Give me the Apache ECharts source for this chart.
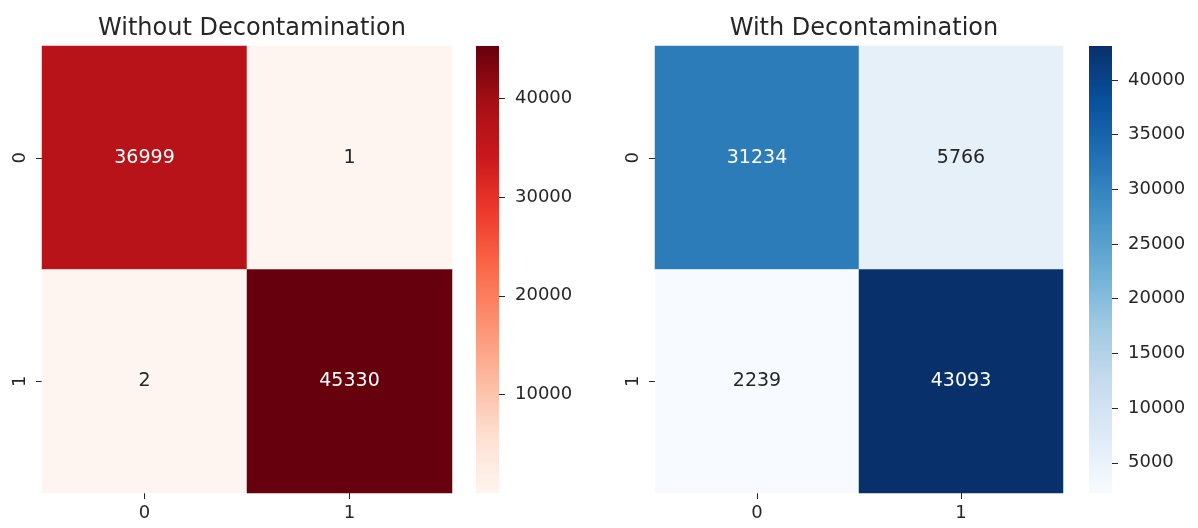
<!DOCTYPE html>
<html>
<head>
<meta charset="UTF-8">
<script src="https://cdn.jsdelivr.net/npm/echarts@6/dist/echarts.min.js"></script>
<style>
  html, body { margin: 0; padding: 0; background: #fff; }
  #chart { width: 1198px; height: 528px; }
</style>
</head>
<body>
<div id="chart"></div>
<script>
  // confusion matrix labels and values (rows = actual, cols = predicted)
  var categories = ['0', '1'];
  var withoutDecon = [[36999, 1], [2, 45330]];
  var withDecon = [[31234, 5766], [2239, 43093]];
  var redTicks = [10000, 20000, 30000, 40000];
  var blueTicks = [5000, 10000, 15000, 20000, 25000, 30000, 35000, 40000];

  var redsMap = ['#fff5f0', '#fee0d2', '#fcbba1', '#fc9272', '#fb6a4a', '#ef3b2c', '#cb181d', '#a50f15', '#67000d'];
  var bluesMap = ['#f7fbff', '#deebf7', '#c6dbef', '#9ecae1', '#6baed6', '#4292c6', '#2171b5', '#08519c', '#08306b'];
  var font = 'DejaVu Sans';
  var ink = '#262626';

  function flat(m) {
    var all = [];
    m.forEach(function (r) { all = all.concat(r); });
    return all;
  }
  function lo(m) { return Math.min.apply(null, flat(m)); }
  function hi(m) { return Math.max.apply(null, flat(m)); }

  function toCells(m) {
    var out = [];
    m.forEach(function (row, y) {
      row.forEach(function (v, x) {
        var dark = (v - lo(m)) / (hi(m) - lo(m)) > 0.45;
        out.push({ value: [x, y, v], label: { color: dark ? '#ffffff' : ink } });
      });
    });
    return out;
  }

  // colorbar gradient, bottom (low) to top (high)
  function gradient(colors) {
    var stops = colors.map(function (c, i) { return { offset: i / (colors.length - 1), color: c }; });
    return new echarts.graphic.LinearGradient(0, 1, 0, 0, stops);
  }

  var grids = [
    { left: 42, top: 46, width: 410, height: 447 },
    { left: 655, top: 46, width: 408, height: 447 },
    { left: 476, top: 46, width: 23, height: 447, show: true, borderWidth: 0, backgroundColor: gradient(redsMap) },
    { left: 1089, top: 46, width: 23, height: 447, show: true, borderWidth: 0, backgroundColor: gradient(bluesMap) }
  ];

  function ticks(extra) {
    return Object.assign({ show: true, inside: false, length: 6, lineStyle: { color: ink, width: 1 } }, extra);
  }

  function catX(i) {
    return {
      type: 'category', gridIndex: i, data: categories,
      axisLine: { show: false },
      axisTick: ticks({ alignWithLabel: true }),
      axisLabel: { fontFamily: font, fontSize: 18, color: ink, margin: 11 },
      splitArea: { show: false }
    };
  }
  function catY(i) {
    return {
      type: 'category', gridIndex: i, data: categories, inverse: true,
      axisLine: { show: false },
      axisTick: ticks({ alignWithLabel: true }),
      axisLabel: { fontFamily: font, fontSize: 18, color: ink, rotate: 90, margin: 13 },
      splitArea: { show: false }
    };
  }
  function barX(i) {
    return { type: 'value', gridIndex: i, show: false, min: 0, max: 1 };
  }
  function barY(i, m, tickVals) {
    return {
      type: 'value', gridIndex: i, position: 'right',
      min: lo(m), max: hi(m),
      splitLine: { show: false },
      axisLine: { show: false, onZero: false },
      axisTick: ticks({ customValues: tickVals }),
      axisLabel: { fontFamily: font, fontSize: 18, color: ink, margin: 16, customValues: tickVals,
        formatter: function (v) { return String(v); } }
    };
  }

  function vm(seriesIndex, m, colors) {
    return {
      type: 'continuous', seriesIndex: seriesIndex, show: false,
      min: lo(m), max: hi(m),
      inRange: { color: colors }
    };
  }

  var cellLabel = { show: true, fontFamily: font, fontSize: 19, formatter: function (p) { return p.value[2]; } };
  var titleStyle = { fontFamily: font, fontSize: 24, fontWeight: 'normal', color: ink };

  var option = {
    backgroundColor: '#ffffff',
    animation: false,
    title: [
      { text: 'Without Decontamination', left: 247, top: 12, textAlign: 'center', textStyle: titleStyle },
      { text: 'With Decontamination', left: 859, top: 12, textAlign: 'center', textStyle: titleStyle }
    ],
    grid: grids,
    xAxis: [catX(0), catX(1), barX(2), barX(3)],
    yAxis: [catY(0), catY(1), barY(2, withoutDecon, redTicks), barY(3, withDecon, blueTicks)],
    visualMap: [vm(0, withoutDecon, redsMap), vm(1, withDecon, bluesMap)],
    series: [
      { type: 'heatmap', xAxisIndex: 0, yAxisIndex: 0, data: toCells(withoutDecon), label: cellLabel },
      { type: 'heatmap', xAxisIndex: 1, yAxisIndex: 1, data: toCells(withDecon), label: cellLabel }
    ]
  };

  echarts.init(document.getElementById('chart')).setOption(option);
</script>
</body>
</html>
